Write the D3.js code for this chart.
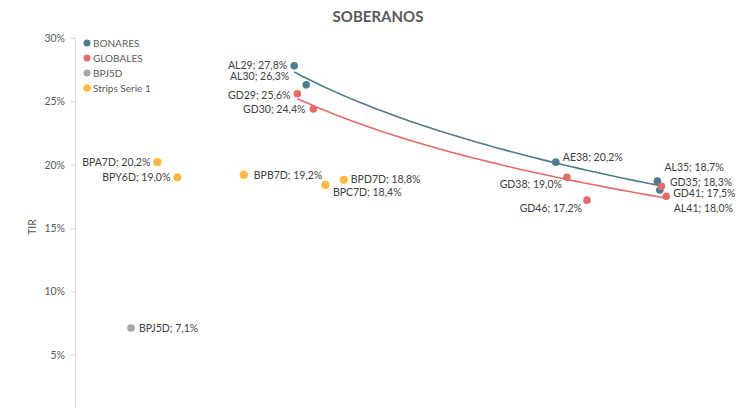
<!DOCTYPE html>
<html>
<head>
<meta charset="utf-8">
<script src="https://cdn.jsdelivr.net/npm/d3@7"></script>
<style>
  body { margin: 0; background: #fff; }
  svg { font-family: Lato, "Open Sans", sans-serif; }
</style>
</head>
<body>
<div id="chart"></div>
<script>
// series: name, duration (x), TIR % (y)
const bonares = [
    ["AL29", 2.74, 27.8],
    ["AL30", 2.89, 26.3],
    ["AE38", 6.01, 20.2],
    ["AL35", 7.28, 18.7],
    ["AL41", 7.31, 18.0]
];
const globales = [
    ["GD29", 2.78, 25.6],
    ["GD30", 2.98, 24.4],
    ["GD38", 6.15, 19.0],
    ["GD46", 6.40, 17.2],
    ["GD35", 7.33, 18.3],
    ["GD41", 7.39, 17.5]
];
const bpj5d = [
    ["BPJ5D", 0.70, 7.1]
];
const strips = [
    ["BPA7D", 1.03, 20.2],
    ["BPY6D", 1.28, 19.0],
    ["BPB7D", 2.11, 19.2],
    ["BPD7D", 3.36, 18.8],
    ["BPC7D", 3.13, 18.4]
];
const seriesNames = ["BONARES", "GLOBALES", "BPJ5D", "Strips Serie 1"];
const yTicks = [5, 10, 15, 20, 25, 30];

const colors = {
    "BONARES": "#4d7c8e",
    "GLOBALES": "#e56b6b",
    "BPJ5D": "#a6a6a6",
    "Strips Serie 1": "#fbb65a"
};

// label offsets (dx, dy, anchor) so they sit like in the original
const labelPos = {
    AL29: [-7, 3.5, "end"], AL30: [-17, -4.5, "end"], GD29: [-7, 5.5, "end"], GD30: [-8, 4.5, "end"],
    AE38: [7, -1.5, "start"], GD38: [-5, 10.5, "end"], GD46: [-5, 11.5, "end"],
    AL35: [7, -10.5, "start"], GD35: [8.5, -0.7, "start"], GD41: [7, 0.2, "start"], AL41: [14, 21.5, "start"],
    BPA7D: [-7, 3.5, "end"], BPY6D: [-7, 3.5, "end"], BPB7D: [10, 4, "start"],
    BPD7D: [7, 3, "start"], BPC7D: [7.5, 10.6, "start"], BPJ5D: [8, 3.5, "start"]
};

const width = 747, height = 408;
const svg = d3.select("#chart").append("svg")
    .attr("width", width).attr("height", height);

const x = d3.scaleLinear().domain([0, 8]).range([75, 715]);
const y = d3.scaleLinear().domain([0, 30]).range([418, 38]);

svg.append("text")
    .attr("x", 378).attr("y", 22)
    .attr("text-anchor", "middle")
    .attr("font-size", 15).attr("font-weight", "bold")
    .attr("fill", "#595959")
    .text("SOBERANOS");

const yAxis = svg.append("g")
    .attr("transform", "translate(75,0)")
    .call(d3.axisLeft(y).tickValues(yTicks).tickSize(5).tickPadding(5)
        .tickFormat(d => d + "%"));
yAxis.select(".domain").attr("stroke", "#d9d9d9");
yAxis.selectAll(".tick line").attr("stroke", "#d9d9d9");
yAxis.selectAll(".tick text").attr("fill", "#595959").attr("font-size", 10.5)
    .attr("font-family", "Lato, sans-serif");

svg.append("text")
    .attr("transform", "translate(36,227) rotate(-90)")
    .attr("text-anchor", "middle")
    .attr("font-size", 10.5).attr("fill", "#595959")
    .text("TIR");

// logarithmic trendline (least squares on ln x)
function logTrend(data) {
    const lx = data.map(d => Math.log(d[1]));
    const mx = d3.mean(lx), my = d3.mean(data, d => d[2]);
    let sxy = 0, sxx = 0;
    data.forEach((d, i) => {
        sxy += (lx[i] - mx) * (d[2] - my);
        sxx += (lx[i] - mx) * (lx[i] - mx);
    });
    const a = sxy / sxx, b = my - a * mx;
    const [x0, x1] = d3.extent(data, d => d[1]);
    return d3.range(0, 41).map(i => {
        const xv = x0 + (x1 - x0) * i / 40;
        return [xv, a * Math.log(xv) + b];
    });
}

const line = d3.line().x(d => x(d[0])).y(d => y(d[1]));
[[bonares, "BONARES"], [globales, "GLOBALES"]].forEach(([data, name]) => {
    svg.append("path")
        .attr("d", line(logTrend(data)))
        .attr("fill", "none")
        .attr("stroke", colors[name])
        .attr("stroke-width", 1.6);
});

const groups = [
    [bonares, "BONARES"],
    [globales, "GLOBALES"],
    [bpj5d, "BPJ5D"],
    [strips, "Strips Serie 1"]
];

groups.forEach(([data, name]) => {
    const g = svg.append("g");
    g.selectAll("circle")
        .data(data)
        .enter()
        .append("circle")
        .attr("cx", d => x(d[1]))
        .attr("cy", d => y(d[2]))
        .attr("r", 3.8)
        .attr("fill", colors[name])
        .attr("stroke", name == "Strips Serie 1" ? "#ffc000" : "none")
        .attr("stroke-width", 0.8);
    g.selectAll("text")
        .data(data)
        .enter()
        .append("text")
        .attr("x", d => x(d[1]) + labelPos[d[0]][0])
        .attr("y", d => y(d[2]) + labelPos[d[0]][1])
        .attr("text-anchor", d => labelPos[d[0]][2])
        .attr("font-size", 10.5)
        .attr("fill", "#404040")
        .text(d => d[0] + "; " + d[2].toFixed(1).replace(".", ",") + "%");
});

// legend
const legend = svg.append("g").attr("transform", "translate(87,43)");
seriesNames.forEach((name, i) => {
    const row = legend.append("g").attr("transform", "translate(0," + (i * 15) + ")");
    row.append("circle").attr("r", 3.5).attr("fill", colors[name])
        .attr("stroke", name == "Strips Serie 1" ? "#ffc000" : "none").attr("stroke-width", 0.8);
    row.append("text").attr("x", 6).attr("y", 3.7)
        .attr("font-size", 10).attr("fill", "#595959")
        .text(name);
});
</script>
</body>
</html>
